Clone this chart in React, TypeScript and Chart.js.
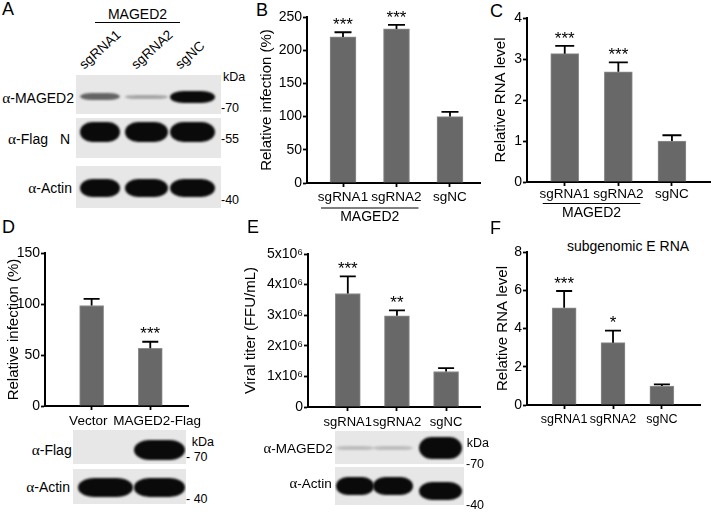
import React, { useEffect, useRef } from 'react';
import { Chart, registerables } from 'chart.js';

Chart.register(...registerables);

const FONT = "'Liberation Sans', Arial, Helvetica, sans-serif";
const SERIF = "'Liberation Serif', 'Times New Roman', serif";

// ---------- chart data ----------
const koCategories = ['sgRNA1', 'sgRNA2', 'sgNC'];
const oeCategories = ['Vector', 'MAGED2-Flag'];

const infectionKO = [220, 232, 100];
const infectionKOErr = [7, 6, 7];
const infectionKOStars = ['***', '***', ''];
const infectionKOTicks = [0, 50, 100, 150, 200, 250];

const rnaKO = [3.13, 2.69, 1.0];
const rnaKOErr = [0.19, 0.23, 0.14];
const rnaKOStars = ['***', '***', ''];
const rnaKOTicks = [0, 1, 2, 3, 4];

const infectionOE = [98.5, 56.5];
const infectionOEErr = [6.5, 6.5];
const infectionOEStars = ['', '***'];
const infectionOETicks = [0, 50, 100, 150];

const titerKO = [3.71e6, 2.98e6, 1.16e6];
const titerKOErr = [0.56e6, 0.18e6, 0.11e6];
const titerKOStars = ['***', '**', ''];
const titerTicks = [0, 1e6, 2e6, 3e6, 4e6, 5e6];
const titerTickLabels = ['0', '1x10\u2076', '2x10\u2076', '3x10\u2076', '4x10\u2076', '5x10\u2076'];

const sgERna = [5.08, 3.26, 0.99];
const sgERnaErr = [0.88, 0.63, 0.09];
const sgERnaStars = ['***', '*', ''];
const sgERnaTicks = [0, 2, 4, 6, 8];

// ---------- western blot band intensities (0..1) ----------
const blotA_MAGED2 = [0.6, 0.3, 1];
const blotA_Flag = [1, 1, 1];
const blotA_Actin = [1, 1, 1];
const blotD_Flag = [0, 1];
const blotD_Actin = [1, 1];
const blotE_MAGED2 = [0.2, 0.2, 1];
const blotE_Actin = [1, 1, 1];

type Group = { from: number; to: number; text: string; lineDy: number; textDy: number };

type PanelProps = {
  left: number; top: number; width: number; height: number;
  padTop: number; padRight: number; yAxisW: number; xAxisH: number;
  xMin: number; xMax: number;
  categories: string[]; values: number[]; errors: number[]; stars: string[];
  yTicks: number[]; yTickLabels?: string[]; yTitle: string;
  barW: number; capW: number; xFont: number; xPad: number;
  labelPre?: string[]; labelPost?: string[];
  group?: Group;
};

function BarPanel(p: PanelProps) {
  const ref = useRef<HTMLCanvasElement | null>(null);
  useEffect(() => {
    const canvas = ref.current;
    if (!canvas) return;
    const overlay = {
      id: 'overlay',
      afterDatasetsDraw(chart: any) {
        const ctx = chart.ctx;
        const xs = chart.scales.x;
        const ys = chart.scales.y;
        ctx.save();
        ctx.strokeStyle = '#000';
        ctx.fillStyle = '#000';
        ctx.lineWidth = 1.8;
        p.values.forEach((v, i) => {
          const x = xs.getPixelForValue(i);
          const y0 = ys.getPixelForValue(v);
          const y1 = ys.getPixelForValue(v + p.errors[i]);
          ctx.beginPath();
          ctx.moveTo(x, y0);
          ctx.lineTo(x, y1);
          ctx.moveTo(x - p.capW / 2, y1);
          ctx.lineTo(x + p.capW / 2, y1);
          ctx.stroke();
          if (p.stars[i]) {
            ctx.font = `17px ${FONT}`;
            ctx.textAlign = 'center';
            ctx.textBaseline = 'alphabetic';
            ctx.fillText(p.stars[i], x, y1 - 12 + 0.573 * 17);
          }
        });
        if (p.group) {
          const g = p.group;
          const xa = xs.getPixelForValue(g.from) - 22;
          const xb = xs.getPixelForValue(g.to) + 22;
          const yb = chart.chartArea.bottom;
          ctx.lineWidth = 1.2;
          ctx.beginPath();
          ctx.moveTo(xa, yb + g.lineDy);
          ctx.lineTo(xb, yb + g.lineDy);
          ctx.stroke();
          ctx.font = `14px ${FONT}`;
          ctx.textAlign = 'center';
          ctx.textBaseline = 'middle';
          ctx.fillText(g.text, (xa + xb) / 2, yb + g.textDy);
        }
        ctx.restore();
      },
    };
    const axisGrid = {
      display: true,
      drawOnChartArea: false,
      drawTicks: true,
      tickLength: 4,
      tickWidth: 1.8,
      tickColor: '#000',
      offset: false,
    };
    const axisBorder = { display: true, color: '#000', width: 2 };
    const chart = new Chart(canvas, {
      type: 'bar',
      data: {
        datasets: [
          {
            data: p.values.map((v, i) => ({ x: i, y: v })),
            backgroundColor: '#686868',
            borderColor: '#8e8e8e',
            borderWidth: 1,
            barThickness: p.barW,
          } as any,
        ],
      },
      options: {
        animation: false,
        responsive: false,
        layout: { padding: { top: p.padTop, left: 0, right: p.padRight, bottom: 0 } },
        plugins: { legend: { display: false }, tooltip: { enabled: false } },
        scales: {
          x: {
            type: 'linear',
            min: p.xMin,
            max: p.xMax,
            offset: false,
            afterBuildTicks: (s: any) => {
              s.ticks = p.categories.map((_, i) => ({ value: i }));
            },
            afterFit: (s: any) => {
              s.height = p.xAxisH;
            },
            ticks: {
              callback: (v: any) => {
                const i = Math.round(Number(v));
                const name = p.categories[i] ?? '';
                return (p.labelPre ? p.labelPre[i] : '') + name + (p.labelPost ? p.labelPost[i] : '');
              },
              autoSkip: false,
              maxRotation: 0,
              minRotation: 0,
              color: '#000',
              font: { family: FONT, size: p.xFont },
              padding: p.xPad,
            },
            grid: axisGrid,
            border: axisBorder,
          } as any,
          y: {
            type: 'linear',
            min: 0,
            max: p.yTicks[p.yTicks.length - 1],
            afterBuildTicks: (s: any) => {
              s.ticks = p.yTicks.map((v) => ({ value: v }));
            },
            afterFit: (s: any) => {
              s.width = p.yAxisW;
            },
            ticks: {
              callback: (v: any, i: number) => (p.yTickLabels ? p.yTickLabels[i] : String(v)),
              autoSkip: false,
              color: '#000',
              font: { family: FONT, size: 14 },
              padding: 1,
            },
            grid: axisGrid,
            border: axisBorder,
            title: {
              display: true,
              text: p.yTitle,
              color: '#000',
              font: { family: FONT, size: 15 },
              padding: { top: 0, bottom: 0 },
            },
          } as any,
        },
      },
      plugins: [overlay],
    });
    return () => chart.destroy();
  }, []);
  return (
    <canvas
      ref={ref}
      width={p.width}
      height={p.height}
      style={{ position: 'absolute', left: p.left, top: p.top, width: p.width, height: p.height }}
    />
  );
}

type TxtProps = {
  x: number; y: number; size?: number; align?: 'left' | 'right' | 'center';
  children: React.ReactNode;
};
function Txt({ x, y, size = 13, align = 'left', children }: TxtProps) {
  const tx = align === 'left' ? '0' : align === 'right' ? '-100%' : '-50%';
  return (
    <div
      style={{
        position: 'absolute', left: x, top: y, fontFamily: FONT, fontSize: size, lineHeight: 1,
        whiteSpace: 'nowrap', color: '#000', transform: `translate(${tx}, -50%)`,
      }}
    >
      {children}
    </div>
  );
}

function Alpha({ name }: { name: string }) {
  return (
    <>
      <span style={{ fontFamily: SERIF, fontSize: '1.1em' }}>α</span>-{name}
    </>
  );
}

function Rot({ x, y, size, children }: { x: number; y: number; size: number; children: React.ReactNode }) {
  return (
    <div
      style={{
        position: 'absolute', left: x, top: y - size, height: size, fontFamily: FONT, fontSize: size,
        lineHeight: 1, whiteSpace: 'nowrap', transformOrigin: 'left bottom', transform: 'rotate(-42deg)',
      }}
    >
      {children}
    </div>
  );
}

type BlotProps = {
  x: number; y: number; w: number; h: number;
  lanes: number[]; widths: number[]; cy: number; baseH: number;
  intensities: number[]; dys?: number[];
};
function BlotRow({ x, y, w, h, lanes, widths, cy, baseH, intensities, dys }: BlotProps) {
  return (
    <div style={{ position: 'absolute', left: x, top: y, width: w, height: h, background: '#e7e7e7', overflow: 'hidden' }}>
      {intensities.map((v, i) => {
        if (v <= 0) return null;
        const bh = Math.max(4, baseH * v);
        const c = Math.round(232 - 222 * v);
        return (
          <div
            key={i}
            style={{
              position: 'absolute',
              left: lanes[i] - x - widths[i] / 2,
              top: cy - y + (dys ? dys[i] : 0) - bh / 2,
              width: widths[i],
              height: bh,
              background: `rgb(${c},${c},${c})`,
              borderRadius: '30% / 50%',
              filter: 'blur(1.3px)',
            }}
          />
        );
      })}
    </div>
  );
}

function Line({ x, y, w }: { x: number; y: number; w: number }) {
  return <div style={{ position: 'absolute', left: x, top: y, width: w, height: 1.3, background: '#000' }} />;
}

export default function App() {
  const laneA = [100, 146, 192];
  const widthA = [40, 43, 45];
  const laneD = [105.5, 159.5];
  const widthD = [55, 51];
  const laneE = [355, 393, 440];
  const widthE = [38, 40, 43];
  return (
    <div style={{ position: 'absolute', left: 0, top: 0, width: 711, height: 517, background: '#fff', overflow: 'hidden' }}>
      {/* Panel A */}
      <Txt x={2} y={9} size={18}>A</Txt>
      <Txt x={137.5} y={14} size={14} align="center">MAGED2</Txt>
      <Line x={95} y={22} w={85} />
      <Rot x={86} y={71} size={13.5}>sgRNA1</Rot>
      <Rot x={138} y={71} size={13.5}>sgRNA2</Rot>
      <Rot x={182} y={71} size={13.5}>sgNC</Rot>
      <BlotRow x={76} y={75} w={145} h={39} lanes={laneA} widths={widthA} cy={96.5} baseH={12} intensities={blotA_MAGED2} />
      <BlotRow x={76} y={118} w={145} h={40} lanes={laneA} widths={widthA} cy={131.5} baseH={20} intensities={blotA_Flag} />
      <BlotRow x={76} y={166} w={145} h={42} lanes={laneA} widths={widthA} cy={187.5} baseH={18} intensities={blotA_Actin} />
      <Txt x={74} y={98} size={14} align="right"><Alpha name="MAGED2" /></Txt>
      <Txt x={8} y={138.5} size={14}><Alpha name="Flag" /></Txt>
      <Txt x={60} y={138.5} size={14}>N</Txt>
      <Txt x={72} y={188} size={14} align="right"><Alpha name="Actin" /></Txt>
      <Txt x={223} y={77} size={12.5}>kDa</Txt>
      <Txt x={221} y={108} size={12.5}>-70</Txt>
      <Txt x={221} y={138.5} size={12.5}>-55</Txt>
      <Txt x={221} y={200} size={12.5}>-40</Txt>

      {/* Panel B */}
      <Txt x={256} y={10} size={18}>B</Txt>
      <BarPanel
        left={258} top={0} width={228} height={225} padTop={17} padRight={6} yAxisW={49} xAxisH={42}
        xMin={-0.673} xMax={2.561} categories={koCategories} values={infectionKO} errors={infectionKOErr}
        stars={infectionKOStars} yTicks={infectionKOTicks} yTitle="Relative infection (%)"
        barW={26} capW={17} xFont={13.5} xPad={2}
        group={{ from: 0, to: 1, text: 'MAGED2', lineDy: 25, textDy: 34 }}
      />

      {/* Panel C */}
      <Txt x={490} y={11} size={18}>C</Txt>
      <BarPanel
        left={492} top={0} width={224} height={225} padTop={18} padRight={6} yAxisW={35} xAxisH={43}
        xMin={-0.704} xMax={2.71} categories={koCategories} values={rnaKO} errors={rnaKOErr}
        stars={rnaKOStars} yTicks={rnaKOTicks} yTitle="Relative RNA level"
        barW={28} capW={19} xFont={13.5} xPad={0}
        group={{ from: 0, to: 1, text: 'MAGED2', lineDy: 21.5, textDy: 31.5 }}
      />

      {/* Panel D */}
      <Txt x={2} y={227} size={18}>D</Txt>
      <BarPanel
        left={5} top={240} width={201} height={190} padTop={13} padRight={6} yAxisW={40} xAxisH={24}
        xMin={-0.795} xMax={1.646} categories={oeCategories} values={infectionOE} errors={infectionOEErr}
        stars={infectionOEStars} yTicks={infectionOETicks} yTitle="Relative infection (%)"
        barW={24} capW={16} xFont={13.5} xPad={3.5}
        labelPre={['', '\u2003']} labelPost={['\u2002', '']}
      />
      <BlotRow x={73} y={430} w={113} h={34} lanes={laneD} widths={widthD} cy={450} baseH={20} intensities={blotD_Flag} />
      <BlotRow x={73} y={469} w={113} h={35} lanes={laneD} widths={widthD} cy={487.5} baseH={19} intensities={blotD_Actin} />
      <Txt x={71.7} y={450} size={14} align="right"><Alpha name="Flag" /></Txt>
      <Txt x={70} y={486.7} size={14} align="right"><Alpha name="Actin" /></Txt>
      <Txt x={191.7} y={441.7} size={12.5}>kDa</Txt>
      <Txt x={186} y={457} size={12.5}>- 70</Txt>
      <Txt x={186} y={499.3} size={12.5}>- 40</Txt>

      {/* Panel E */}
      <Txt x={247} y={227} size={18}>E</Txt>
      <BarPanel
        left={242} top={240} width={244} height={190} padTop={14} padRight={6} yAxisW={66} xAxisH={23}
        xMin={-0.81} xMax={2.69} categories={koCategories} values={titerKO} errors={titerKOErr}
        stars={titerKOStars} yTicks={titerTicks} yTickLabels={titerTickLabels} yTitle="Viral titer (FFU/mL)"
        barW={25} capW={16} xFont={13} xPad={4}
      />
      <BlotRow x={335} y={431} w={129} h={33} lanes={laneE} widths={widthE} cy={448} baseH={22} intensities={blotE_MAGED2} />
      <BlotRow x={335} y={467} w={129} h={38} lanes={laneE} widths={widthE} cy={486} baseH={18} intensities={blotE_Actin} dys={[0, 0, 5]} />
      <Txt x={332.7} y={448.3} size={13.5} align="right"><Alpha name="MAGED2" /></Txt>
      <Txt x={331.7} y={483.3} size={13.5} align="right"><Alpha name="Actin" /></Txt>
      <Txt x={466.7} y={443} size={12.5}>kDa</Txt>
      <Txt x={466} y={464} size={12.5}>-70</Txt>
      <Txt x={466} y={505} size={12.5}>-40</Txt>

      {/* Panel F */}
      <Txt x={490} y={228} size={18}>F</Txt>
      <Txt x={628} y={246} size={14} align="center">subgenomic E RNA</Txt>
      <BarPanel
        left={494} top={240} width={212} height={190} padTop={12} padRight={6} yAxisW={33} xAxisH={25}
        xMin={-0.76} xMax={2.78} categories={koCategories} values={sgERna} errors={sgERnaErr}
        stars={sgERnaStars} yTicks={sgERnaTicks} yTitle="Relative RNA level"
        barW={24} capW={16} xFont={12.5} xPad={3}
      />
    </div>
  );
}
